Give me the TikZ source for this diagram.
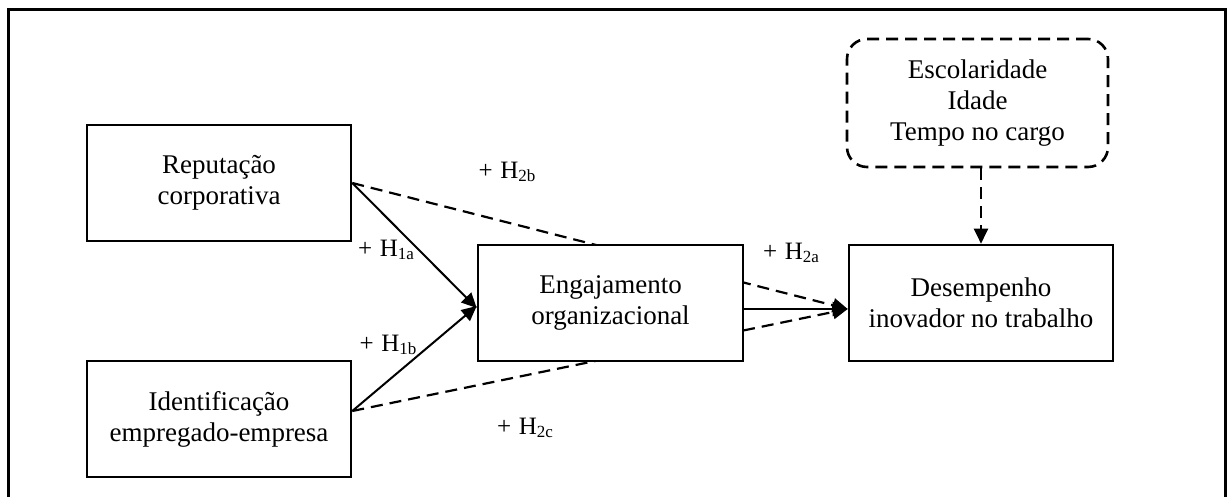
\documentclass[tikz,border=0pt]{standalone}
\usepackage{fontspec}
\setmainfont{Liberation Serif}
\usetikzlibrary{arrows.meta,backgrounds}
\newcommand{\hyp}[1]{+\hspace{0.3em}H\raisebox{-3.5pt}{\fontsize{17}{17}\selectfont #1}}
\begin{document}
\begin{tikzpicture}[x=1pt,y=-1pt,
  box/.style={draw,line width=2.6pt,fill=white,inner sep=0pt,minimum width=264pt,minimum height=116pt,align=center,font=\fontsize{27}{31}\selectfont},
  ctrl/.style={draw,line width=2.6pt,dash pattern=on 12pt off 7pt,rounded corners=20pt,inner sep=0pt,minimum width=261pt,minimum height=128pt,align=center,font=\fontsize{27}{31}\selectfont},
  lbl/.style={font=\fontsize{25}{29}\selectfont,inner sep=0pt},
  arr/.style={line width=2pt,-{Triangle[length=15pt,width=14pt]}},
  darr/.style={line width=2.2pt,dash pattern=on 12pt off 7pt,-{Triangle[length=15pt,width=14pt]}}
]
\useasboundingbox (0,0) rectangle (1227,497);
\draw[line width=3pt] (8.5,497) -- (8.5,9.5) -- (1225,9.5) -- (1225,497);

\node[box] (rep) at (219,183) {Reputação\\corporativa};
\node[box] (ide) at (219,419) {Identificação\\empregado-empresa};
\node[box,minimum width=265pt] (eng) at (610.5,303) {Engajamento\\organizacional};
\node[box] (des) at (981,303) {Desempenho\\inovador no trabalho};
\node[ctrl] (ctl) at (977.5,103) {Escolaridade\\Idade\\Tempo no cargo};

\begin{pgfonlayer}{background}
\draw[darr] (rep.east) -- ([yshift=-6pt]des.west);
\draw[darr] ([yshift=8pt]ide.east) -- ([yshift=-6pt]des.west);
\end{pgfonlayer}

\draw[arr] (rep.east) -- ([yshift=-5pt]eng.west);
\draw[arr] ([yshift=8pt]ide.east) -- ([yshift=-3pt]eng.west);
\draw[arr] ([yshift=-6pt]eng.east) -- ([yshift=-6pt]des.west);
\draw[darr] (ctl.south -| des.north) -- (des.north);

\node[lbl] (h2b) at (507,172) {\hyp{2b}};
\node[lbl] (h1a) at (386,250) {\hyp{1a}};
\node[lbl] (h1b) at (388,345) {\hyp{1b}};
\node[lbl] (h2c) at (525,428) {\hyp{2c}};
\node[lbl] (h2a) at (791,253) {\hyp{2a}};
\end{tikzpicture}
\end{document}
